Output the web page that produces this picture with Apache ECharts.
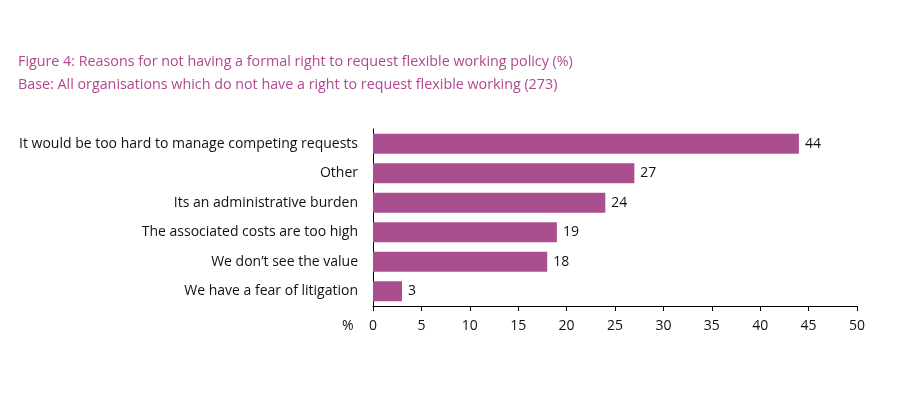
<!DOCTYPE html>
<html><head><meta charset="utf-8">
<script src="https://cdn.jsdelivr.net/npm/echarts@6/dist/echarts.min.js"></script>
<style>html,body{margin:0;padding:0;background:#fff}#c{width:902px;height:393px}</style>
</head><body><div id="c"></div>
<script>
const titleLines = ["Figure 4: Reasons for not having a formal right to request flexible working policy (%)",
  "Base: All organisations which do not have a right to request flexible working (273)"];
const categories = ["It would be too hard to manage competing requests","Other","Its an administrative burden","The associated costs are too high","We don\u2019t see the value","We have a fear of litigation"];
const values = [44, 27, 24, 19, 18, 3];
const xTicks = [0,5,10,15,20,25,30,35,40,45,50];
const unitLabel = "%";

const FONT = "'Open Sans', 'Noto Sans', sans-serif";
const chart = echarts.init(document.getElementById('c'), null, {renderer:'canvas'});
chart.setOption({
  animation:false,
  title:[
    {text:titleLines[0], left:18, top:55, padding:0, textStyle:{fontFamily:FONT,fontSize:14.3,fontWeight:'normal',color:'#B2488F'}},
    {text:titleLines[1], left:18, top:78, padding:0, textStyle:{fontFamily:FONT,fontSize:14.3,fontWeight:'normal',color:'#B2488F'}}
  ],
  graphic:[{type:'text', left:342, top:319, style:{text:unitLabel, font:'14px '+FONT, fill:'#111'}}],
  grid:{left:373, right:45, top:129, height:177, containLabel:false},
  xAxis:{type:'value', min:xTicks[0], max:xTicks[xTicks.length-1], interval:5,
    axisLine:{show:true, lineStyle:{color:'#000',width:1}},
    axisTick:{show:true, length:5, lineStyle:{color:'#000'}},
    splitLine:{show:false},
    axisLabel:{fontFamily:FONT, fontSize:14, color:'#111', margin:13}},
  yAxis:{type:'category', data:categories, inverse:true,
    axisLine:{show:true, lineStyle:{color:'#000',width:1}},
    axisTick:{show:false},
    axisLabel:{fontFamily:FONT, fontSize:14, color:'#111', margin:15}},
  series:[{type:'bar', data:values, barWidth:20,
    itemStyle:{color:'#A94F8F'},
    label:{show:true, position:'right', distance:6, fontFamily:FONT, fontSize:14, color:'#111'}}]
});
</script></body></html>
